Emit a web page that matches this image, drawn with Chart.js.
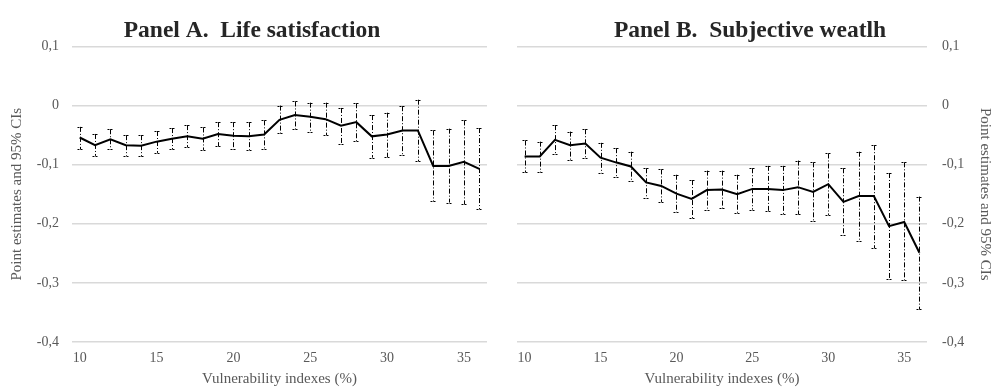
<!DOCTYPE html>
<html>
<head>
<meta charset="utf-8">
<script src="https://cdn.jsdelivr.net/npm/chart.js@4.4.1/dist/chart.umd.min.js"></script>
<style>
  html, body { margin: 0; padding: 0; background: #fff; }
  #wrap { position: relative; width: 995px; height: 388px; }
  #wrap canvas { position: absolute; top: 0; }
  #chartA { left: 0; }
  #chartB { left: 497px; }
</style>
</head>
<body>
<div id="wrap">
  <canvas id="chartA" width="497" height="388"></canvas>
  <canvas id="chartB" width="498" height="388"></canvas>
</div>
<script>
// Vulnerability index categories (%)
const categories = [10, 11, 12, 13, 14, 15, 16, 17, 18, 19, 20, 21, 22, 23,
  24, 25, 26, 27, 28, 29, 30, 31, 32, 33, 34, 35, 36];

// Panel A: life satisfaction
const lifeEst = [-0.054, -0.067, -0.057, -0.067, -0.068, -0.061, -0.056, -0.052, -0.056,
  -0.048, -0.051, -0.052, -0.049, -0.024, -0.016, -0.019, -0.023, -0.034, -0.028,
  -0.052, -0.049, -0.042, -0.042, -0.102, -0.102, -0.095, -0.107];
const lifeUpper = [-0.036, -0.048, -0.040, -0.050, -0.050, -0.043, -0.038, -0.033, -0.037,
  -0.028, -0.028, -0.028, -0.025, 0.000, 0.007, 0.005, 0.005, -0.004, 0.004,
  -0.016, -0.012, -0.001, 0.010, -0.042, -0.039, -0.025, -0.038];
const lifeLower = [-0.074, -0.085, -0.074, -0.085, -0.086, -0.080, -0.074, -0.070, -0.075,
  -0.069, -0.074, -0.075, -0.074, -0.047, -0.040, -0.044, -0.050, -0.065, -0.060,
  -0.088, -0.087, -0.084, -0.094, -0.162, -0.164, -0.167, -0.175];

// Panel B: subjective wealth
const wealthEst = [-0.086, -0.086, -0.058, -0.067, -0.064, -0.088, -0.096, -0.103, -0.130,
  -0.136, -0.149, -0.158, -0.143, -0.142, -0.150, -0.141, -0.141, -0.143, -0.138,
  -0.146, -0.133, -0.163, -0.153, -0.153, -0.204, -0.197, -0.249];
const wealthUpper = [-0.059, -0.061, -0.033, -0.044, -0.040, -0.063, -0.072, -0.078, -0.106,
  -0.108, -0.117, -0.126, -0.110, -0.110, -0.117, -0.106, -0.102, -0.102, -0.093,
  -0.096, -0.081, -0.106, -0.078, -0.067, -0.114, -0.096, -0.154];
const wealthLower = [-0.113, -0.113, -0.082, -0.092, -0.089, -0.114, -0.120, -0.128, -0.156,
  -0.163, -0.180, -0.191, -0.176, -0.174, -0.182, -0.176, -0.178, -0.184, -0.184,
  -0.195, -0.185, -0.219, -0.229, -0.241, -0.294, -0.295, -0.345];

const xTickEvery = 5;
const yMin = -0.4;
const yMax = 0.1;
const yStep = 0.1;

const serif = "'Liberation Serif', 'Times New Roman', serif";
const tickGray = "#595959";

// Draw the 95% CI whiskers (dash-dot) behind the line
const errorBars = {
  id: "errorBars",
  beforeDatasetsDraw(chart, args, opts) {
    const { ctx } = chart;
    const xs = chart.scales.x;
    const ys = chart.scales.y;
    ctx.save();
    ctx.strokeStyle = "#000";
    ctx.lineWidth = 1;
    for (let i = 0; i < opts.upper.length; i++) {
      const x = Math.round(xs.getPixelForValue(i)) + 0.5;
      const yt = ys.getPixelForValue(opts.upper[i]);
      const yb = ys.getPixelForValue(opts.lower[i]);
      ctx.setLineDash([5, 2, 1, 2]);
      ctx.beginPath();
      ctx.moveTo(x, yt);
      ctx.lineTo(x, yb);
      ctx.stroke();
      ctx.setLineDash([2, 1]);
      ctx.beginPath();
      ctx.moveTo(x - 3, Math.round(yt) + 0.5);
      ctx.lineTo(x + 3, Math.round(yt) + 0.5);
      ctx.moveTo(x - 3, Math.round(yb) + 0.5);
      ctx.lineTo(x + 3, Math.round(yb) + 0.5);
      ctx.stroke();
    }
    ctx.restore();
  },
};

function yLabel(value) {
  const v = Math.round(value * 10) / 10;
  if (v === 0) return "0";
  return v.toFixed(1).replace(".", ",");
}

function makeChart(id, title, est, upper, lower, side) {
  const left = side === "left";
  return new Chart(document.getElementById(id), {
    type: "line",
    data: {
      labels: categories,
      datasets: [
        {
          data: est,
          borderColor: "#000",
          borderWidth: 2,
          pointRadius: 0,
          tension: 0,
          fill: false,
        },
      ],
    },
    options: {
      responsive: false,
      animation: false,
      layout: {
        padding: left
          ? { left: 17, right: 10, top: 0, bottom: 0 }
          : { left: 20, right: 12, top: 0, bottom: 0 },
      },
      plugins: {
        legend: { display: false },
        tooltip: { enabled: false },
        title: {
          display: true,
          text: title,
          color: "#262626",
          font: { family: serif, size: 23.5, weight: "bold", lineHeight: 1 },
          padding: { top: 19, bottom: 4 },
        },
        errorBars: { upper: upper, lower: lower },
      },
      scales: {
        x: {
          offset: true,
          grid: { display: false, drawTicks: false },
          border: { display: false },
          ticks: {
            color: tickGray,
            font: { family: serif, size: 14 },
            padding: 8,
            autoSkip: false,
            maxRotation: 0,
            callback: function (value) {
              const lab = this.getLabelForValue(value);
              return lab % xTickEvery === 0 ? String(lab) : "";
            },
          },
          title: {
            display: true,
            text: "Vulnerability indexes (%)",
            color: tickGray,
            font: { family: serif, size: 15 },
            padding: { top: -1, bottom: 0 },
          },
          afterFit: (s) => { s.height = 46; },
        },
        y: {
          position: side,
          min: yMin,
          max: yMax,
          grid: { color: "#d9d9d9", lineWidth: 1.5, drawTicks: false },
          border: { display: false },
          ticks: {
            stepSize: yStep,
            color: tickGray,
            font: { family: serif, size: 14 },
            padding: left ? 13 : 15,
            callback: yLabel,
          },
          title: {
            display: true,
            text: "Point estimates and 95% CIs",
            color: tickGray,
            font: { family: serif, size: 15 },
            padding: left ? { top: -9, bottom: 0 } : { top: -11, bottom: 0 },
          },
          afterFit: (s) => { s.width = left ? 55 : 56; },
        },
      },
    },
    plugins: [errorBars],
  });
}

makeChart("chartA", "Panel A.  Life satisfaction", lifeEst, lifeUpper, lifeLower, "left");
makeChart("chartB", "Panel B.  Subjective weatlh", wealthEst, wealthUpper, wealthLower, "right");
</script>
</body>
</html>
